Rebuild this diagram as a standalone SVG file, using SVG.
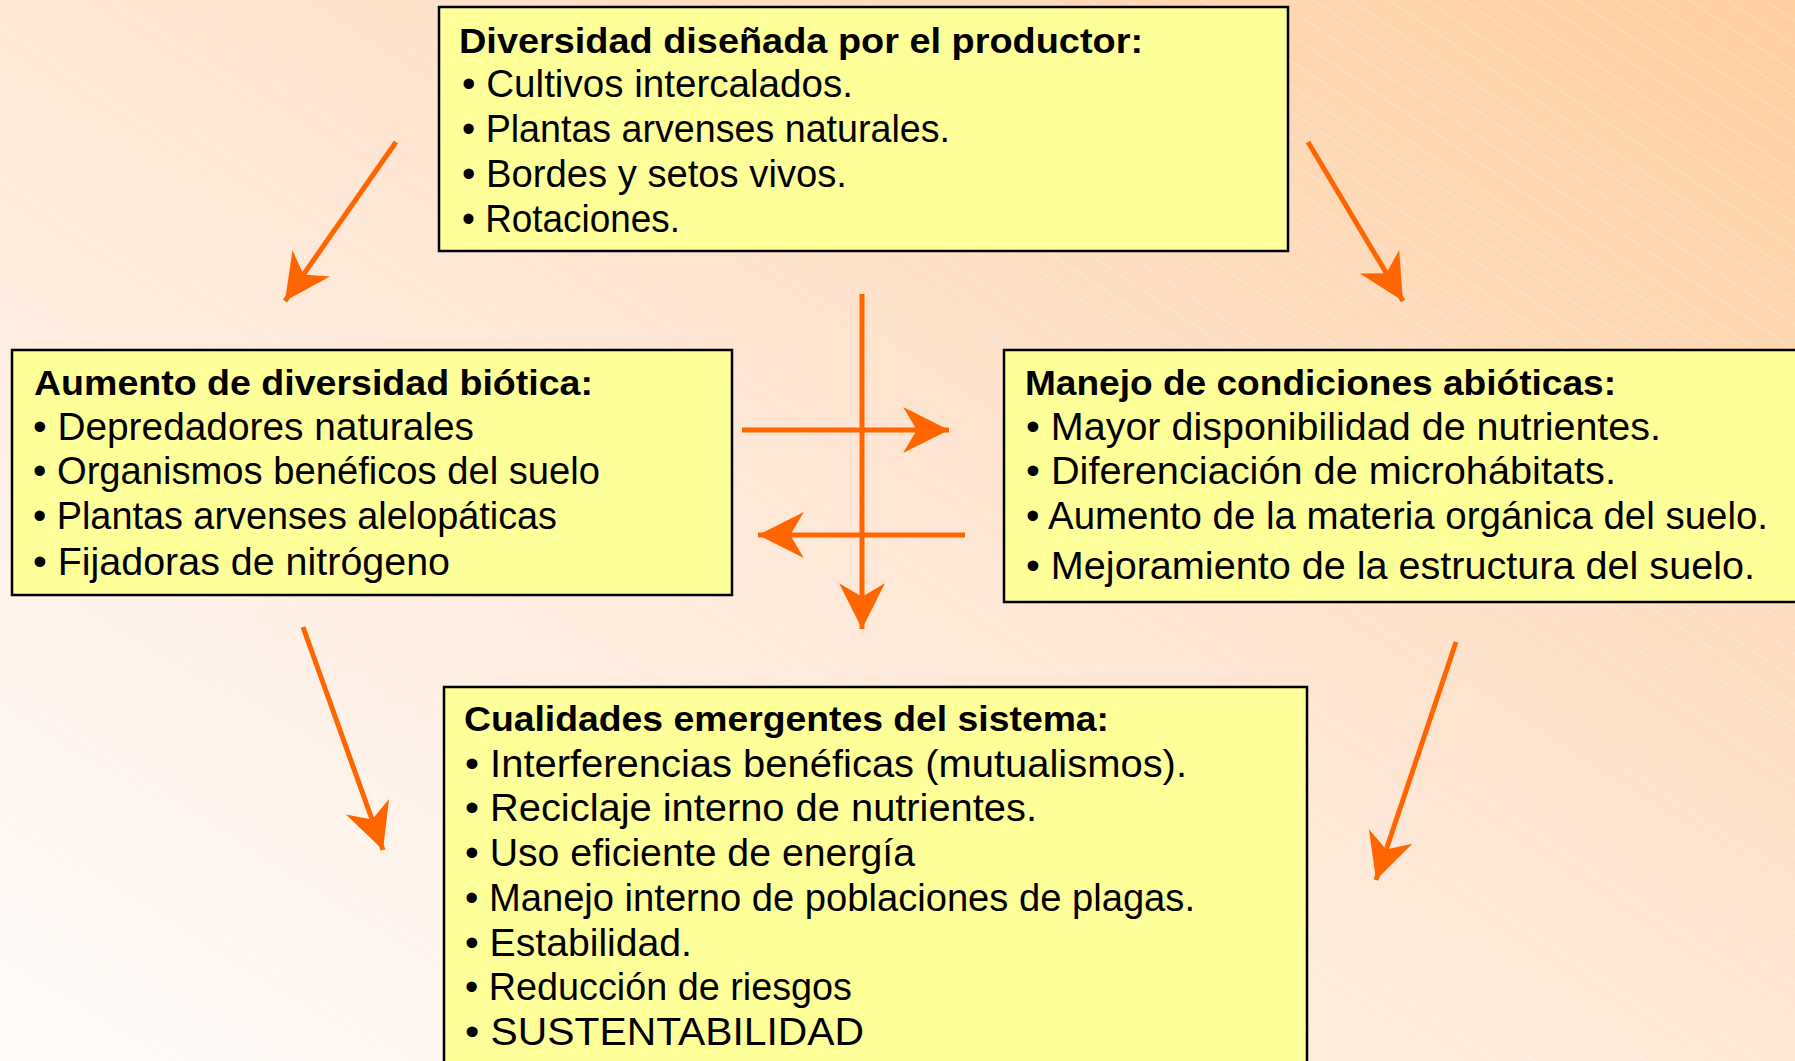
<svg xmlns="http://www.w3.org/2000/svg" width="1795" height="1061" viewBox="0 0 1795 1061">
<defs>
<linearGradient id="bg" x1="0" y1="1" x2="1" y2="0">
<stop offset="0" stop-color="#FFFCFA"/>
<stop offset="0.5" stop-color="#FEE7D6"/>
<stop offset="1" stop-color="#FECFA0"/>
</linearGradient>
<pattern id="hatch" patternUnits="userSpaceOnUse" width="40" height="21" patternTransform="rotate(34)">
<line x1="0" y1="0.5" x2="40" y2="0.5" stroke="#FFFFFF" stroke-width="1"/>
</pattern>
<marker id="ah" markerUnits="userSpaceOnUse" markerWidth="50" markerHeight="50" viewBox="-46 -24 48 48" refX="0" refY="0" orient="auto">
<path d="M0,0 L-44,-22 L-31,0 L-44,22 Z" fill="#FF6600"/>
</marker>
<style>
.box{fill:#FFFF99;stroke:#000;stroke-width:2.5}
.t{font-family:"Liberation Sans","DejaVu Sans",sans-serif;fill:#000;font-size:38px}
.h{font-family:"Liberation Sans","DejaVu Sans",sans-serif;fill:#000;font-size:35px;font-weight:bold}
.c{stroke:#FF6600;stroke-width:5;fill:none;marker-end:url(#ah)}
</style>
</defs>
<rect x="0" y="0" width="1795" height="1061" fill="url(#bg)"/>
<rect x="0" y="0" width="1795" height="1061" fill="url(#hatch)" opacity="0.25"/>

<g id="node-top">
<rect class="box" x="439" y="7" width="849" height="244"/>
<text class="h" x="459" y="53" textLength="684" lengthAdjust="spacingAndGlyphs">Diversidad diseñada por el productor:</text>
<text class="t" x="462" y="97" textLength="391" lengthAdjust="spacingAndGlyphs">• Cultivos intercalados.</text>
<text class="t" x="462" y="142" textLength="488" lengthAdjust="spacingAndGlyphs">• Plantas arvenses naturales.</text>
<text class="t" x="462" y="187" textLength="385" lengthAdjust="spacingAndGlyphs">• Bordes y setos vivos.</text>
<text class="t" x="462" y="232" textLength="218" lengthAdjust="spacingAndGlyphs">• Rotaciones.</text>
</g>

<g id="node-left">
<rect class="box" x="12" y="350" width="720" height="245"/>
<text class="h" x="34" y="395" textLength="559" lengthAdjust="spacingAndGlyphs">Aumento de diversidad biótica:</text>
<text class="t" x="33" y="440" textLength="441" lengthAdjust="spacingAndGlyphs">• Depredadores naturales</text>
<text class="t" x="33" y="484" textLength="567" lengthAdjust="spacingAndGlyphs">• Organismos benéficos del suelo</text>
<text class="t" x="33" y="529" textLength="524" lengthAdjust="spacingAndGlyphs">• Plantas arvenses alelopáticas</text>
<text class="t" x="33" y="575" textLength="417" lengthAdjust="spacingAndGlyphs">• Fijadoras de nitrógeno</text>
</g>

<g id="node-right">
<rect class="box" x="1004" y="350" width="800" height="252"/>
<text class="h" x="1025" y="395" textLength="591" lengthAdjust="spacingAndGlyphs">Manejo de condiciones abióticas:</text>
<text class="t" x="1026" y="440" textLength="635" lengthAdjust="spacingAndGlyphs">• Mayor disponibilidad de nutrientes.</text>
<text class="t" x="1026" y="484" textLength="590" lengthAdjust="spacingAndGlyphs">• Diferenciación de microhábitats.</text>
<text class="t" x="1026" y="529" textLength="742" lengthAdjust="spacingAndGlyphs">• Aumento de la materia orgánica del suelo.</text>
<text class="t" x="1026" y="579" textLength="729" lengthAdjust="spacingAndGlyphs">• Mejoramiento de la estructura del suelo.</text>
</g>

<g id="node-bottom">
<rect class="box" x="444" y="687" width="863" height="390"/>
<text class="h" x="464" y="731" textLength="645" lengthAdjust="spacingAndGlyphs">Cualidades emergentes del sistema:</text>
<text class="t" x="465" y="777" textLength="722" lengthAdjust="spacingAndGlyphs">• Interferencias benéficas (mutualismos).</text>
<text class="t" x="465" y="821" textLength="572" lengthAdjust="spacingAndGlyphs">• Reciclaje interno de nutrientes.</text>
<text class="t" x="465" y="866" textLength="450" lengthAdjust="spacingAndGlyphs">• Uso eficiente de energía</text>
<text class="t" x="465" y="911" textLength="730" lengthAdjust="spacingAndGlyphs">• Manejo interno de poblaciones de plagas.</text>
<text class="t" x="465" y="956" textLength="227" lengthAdjust="spacingAndGlyphs">• Estabilidad.</text>
<text class="t" x="465" y="1000" textLength="387" lengthAdjust="spacingAndGlyphs">• Reducción de riesgos</text>
<text class="t" x="465" y="1045" textLength="399" lengthAdjust="spacingAndGlyphs">• SUSTENTABILIDAD</text>
</g>

<g id="connectors">
<line class="c" x1="396" y1="142" x2="285" y2="301"/>
<line class="c" x1="1308" y1="142" x2="1403" y2="301"/>
<line class="c" x1="862" y1="294" x2="862" y2="629"/>
<line class="c" x1="742" y1="430" x2="949" y2="430"/>
<line class="c" x1="965" y1="535" x2="758" y2="535"/>
<line class="c" x1="303" y1="627" x2="383" y2="850"/>
<line class="c" x1="1456" y1="642" x2="1376" y2="880"/>
</g>
</svg>
